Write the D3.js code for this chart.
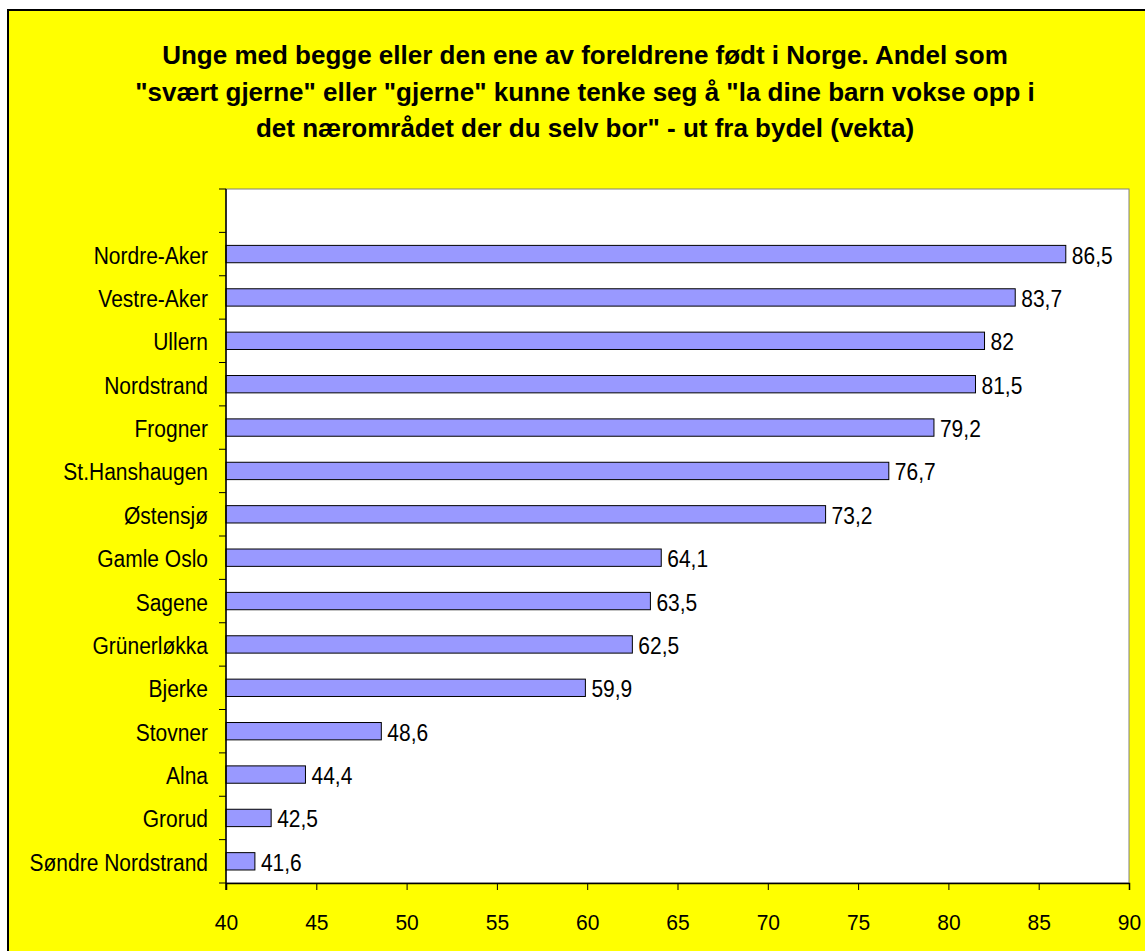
<!DOCTYPE html>
<html>
<head>
<meta charset="utf-8">
<script src="https://cdn.jsdelivr.net/npm/d3@7"></script>
<style>
  html, body { margin: 0; padding: 0; background: #ffffff; }
  svg { display: block; }
  text { font-family: "Liberation Sans", Arial, sans-serif; fill: #000; }
</style>
</head>
<body>
<svg id="chart" width="1145" height="951"></svg>
<script>
// Bydeler, top to bottom, and share (%) answering "svært gjerne" or "gjerne"
const categories = [
  "Nordre-Aker", "Vestre-Aker", "Ullern", "Nordstrand", "Frogner",
  "St.Hanshaugen", "Østensjø", "Gamle Oslo", "Sagene", "Grünerløkka",
  "Bjerke", "Stovner", "Alna", "Grorud", "Søndre Nordstrand"
];
const values = [86.5, 83.7, 82, 81.5, 79.2, 76.7, 73.2, 64.1, 63.5, 62.5, 59.9, 48.6, 44.4, 42.5, 41.6];
const xTicks = [40, 45, 50, 55, 60, 65, 70, 75, 80, 85, 90];
const titleLines = [
  "Unge med begge eller den ene av foreldrene født i Norge. Andel som",
  "\"svært gjerne\" eller \"gjerne\" kunne tenke seg å \"la dine barn vokse opp i",
  "det nærområdet der du selv bor\" - ut fra bydel (vekta)"
];

const svg = d3.select("#chart");

// chart background with frame
svg.append("rect")
  .attr("x", 8).attr("y", 10)
  .attr("width", 1200).attr("height", 1000)
  .attr("fill", "#ffff00")
  .attr("stroke", "#000").attr("stroke-width", 2);

// title
svg.append("g").selectAll("text")
  .data(titleLines)
  .join("text")
  .attr("x", 585)
  .attr("y", (d, i) => 64.3 + i * 36.5)
  .attr("text-anchor", "middle")
  .attr("font-size", 26)
  .attr("font-weight", "bold")
  .text(d => d);

const plot = { left: 226, right: 1129, top: 189, bottom: 883 };

const x = d3.scaleLinear().domain([40, 90]).range([plot.left, plot.right]);
// an empty slot sits above the first bydel
const slots = [""].concat(categories);
const y = d3.scaleBand()
  .domain(slots)
  .range([plot.top, plot.bottom])
  .paddingInner(0.6)
  .paddingOuter(0.3);
const step = y.step();
const labelStretch = 1.12;   // labels are drawn slightly tall

// plot area
svg.append("rect")
  .attr("x", plot.left).attr("y", plot.top)
  .attr("width", plot.right - plot.left)
  .attr("height", plot.bottom - plot.top)
  .attr("fill", "#fff")
  .attr("stroke", "#808080").attr("stroke-width", 1);

// bars
const rows = categories.map((c, i) => ({ name: c, value: values[i] }));
svg.append("g").selectAll("rect")
  .data(rows)
  .join("rect")
  .attr("x", x(40))
  .attr("y", d => y(d.name))
  .attr("width", d => x(d.value) - x(40))
  .attr("height", y.bandwidth())
  .attr("fill", "#9999ff")
  .attr("stroke", "#000").attr("stroke-width", 1);

// value labels
svg.append("g").selectAll("text")
  .data(rows)
  .join("text")
  .attr("transform", d =>
    `translate(${x(d.value) + 6},${y(d.name) + y.bandwidth() / 2 + 9.5}) scale(1,${labelStretch})`)
  .attr("font-size", 21)
  .text(d => String(d.value).replace(".", ","));

// category axis
const yAxis = svg.append("g");
yAxis.append("line")
  .attr("x1", plot.left).attr("x2", plot.left)
  .attr("y1", plot.top).attr("y2", plot.bottom + 7)
  .attr("stroke", "#000").attr("stroke-width", 1.5);
yAxis.selectAll("line.tick")
  .data(d3.range(slots.length + 1))
  .join("line")
  .attr("class", "tick")
  .attr("x1", plot.left - 7).attr("x2", plot.left)
  .attr("y1", i => plot.top + i * step)
  .attr("y2", i => plot.top + i * step)
  .attr("stroke", "#000").attr("stroke-width", 1);
yAxis.selectAll("text")
  .data(categories)
  .join("text")
  .attr("transform", d =>
    `translate(${plot.left - 18},${y(d) + y.bandwidth() / 2 + 9.5}) scale(1,${labelStretch})`)
  .attr("text-anchor", "end")
  .attr("font-size", 21)
  .text(d => d);

// value axis
const xAxis = svg.append("g")
  .attr("transform", `translate(0,${plot.bottom})`)
  .call(d3.axisBottom(x).tickValues(xTicks).tickSize(7).tickPadding(23)
    .tickFormat(d => String(d)));
xAxis.select(".domain").attr("stroke", "#000").attr("stroke-width", 1.5);
xAxis.selectAll(".tick line").attr("stroke", "#000");
xAxis.selectAll(".tick text")
  .attr("font-size", 21)
  .attr("font-family", "'Liberation Sans', Arial, sans-serif")
  .attr("fill", "#000")
  .attr("transform", "scale(1,1.05)");
</script>
</body>
</html>
